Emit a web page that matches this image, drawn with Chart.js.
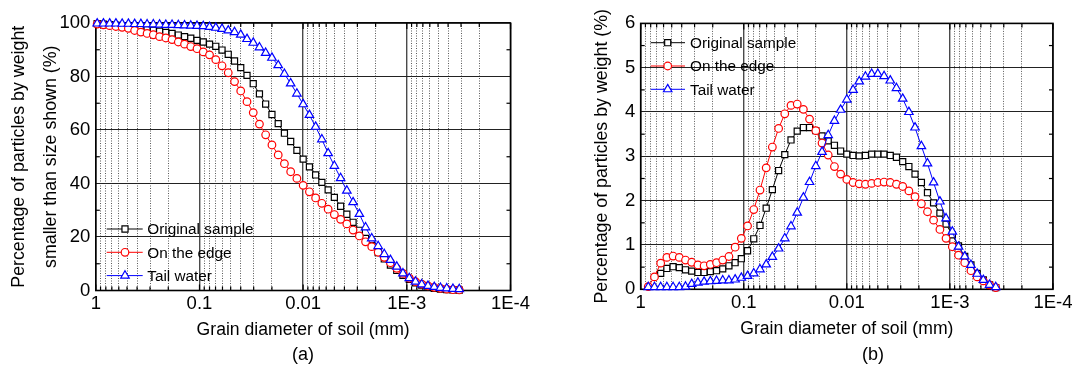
<!DOCTYPE html>
<html><head><meta charset="utf-8">
<script src="https://cdn.jsdelivr.net/npm/chart.js"></script>
<style>
html,body{margin:0;padding:0;background:#fff;}
#wrap{position:relative;width:1075px;height:371px;overflow:hidden;background:#fff;}
canvas{position:absolute;top:0;}
.cap{position:absolute;font-family:'Liberation Sans',Arial,sans-serif;font-size:18px;color:#000;transform:translate(-50%,-50%);white-space:nowrap;}
</style></head><body>
<div id="wrap">
<canvas id="ca" width="540" height="371" style="left:0px"></canvas>
<canvas id="cb" width="535" height="371" style="left:540px"></canvas>
<div class="cap" style="left:303px;top:354px">(a)</div>
<div class="cap" style="left:873px;top:354px">(b)</div>
</div>
<script>
// ---- data ----
const diameters = [0.970, 0.8444, 0.7351, 0.6400, 0.5571, 0.4850, 0.4222, 0.3676, 0.3200, 0.2786,
  0.2425, 0.2111, 0.1838, 0.1600, 0.1393, 0.1213, 0.1056, 0.0919, 0.0800, 0.0696,
  0.0606, 0.0528, 0.0459, 0.0400, 0.0348, 0.0303, 0.0264, 0.0230, 0.0200, 0.0174,
  0.01516, 0.01319, 0.01149, 0.01000, 0.00870, 0.00758, 0.00660, 0.00574, 0.00500, 0.00435,
  0.00379, 0.00330, 0.00287, 0.00250, 0.00218, 0.00189, 0.00165, 0.00144, 0.00125, 0.00109,
  0.000947, 0.000825, 0.000718, 0.000625, 0.000544, 0.000474, 0.000412, 0.000359, 0.000312];

const originalA = [99.8, 99.6, 99.4, 99.2, 98.9, 98.6, 98.3, 98.0, 97.6, 97.3,
  96.9, 96.5, 96.1, 95.5, 94.9, 94.3, 93.5, 92.9, 92.1, 91.3,
  89.9, 88.3, 85.8, 83.3, 80.4, 77.3, 73.5, 69.7, 65.8, 62.4,
  58.8, 55.7, 52.4, 49.1, 46.2, 43.2, 40.4, 37.6, 34.8, 31.5,
  28.5, 25.5, 22.5, 19.5, 16.8, 14.2, 11.8, 9.5, 7.5, 5.7,
  4.2, 2.9, 2.0, 1.3, 0.8, 0.5, 0.3, 0.2, 0.1];
const edgeA = [99.6, 99.3, 99.0, 98.7, 98.4, 98.0, 97.2, 96.6, 96.1, 95.6,
  94.9, 94.4, 93.8, 92.9, 92.1, 91.2, 90.4, 89.2, 88.1, 86.3,
  84.0, 81.4, 78.1, 74.6, 70.6, 66.5, 62.2, 58.2, 54.4, 50.7,
  47.4, 44.4, 41.9, 39.3, 36.9, 34.6, 32.6, 30.4, 28.4, 26.6,
  24.9, 22.6, 20.4, 18.2, 16.4, 14.3, 12.4, 10.4, 8.3, 6.4,
  4.6, 3.3, 2.4, 1.7, 1.2, 0.8, 0.5, 0.3, 0.2];
const tailA = [99.8, 99.8, 99.8, 99.8, 99.7, 99.7, 99.6, 99.6, 99.5, 99.5,
  99.4, 99.3, 99.3, 99.2, 99.1, 99.0, 98.9, 98.8, 98.5, 98.2,
  97.8, 97.2, 96.6, 95.6, 94.0, 92.6, 90.9, 88.8, 87.0, 84.2,
  81.0, 77.4, 73.6, 69.6, 65.6, 61.2, 56.5, 51.3, 46.6, 42.0,
  37.3, 33.0, 28.6, 23.6, 19.5, 16.6, 13.6, 11.4, 8.9, 6.4,
  4.6, 3.3, 2.3, 1.7, 1.3, 1.0, 0.8, 0.6, 0.5];

const originalB = [null, null, null, 0.36, 0.47, 0.51, 0.49, 0.44, 0.41, 0.38,
  0.38, 0.40, 0.42, 0.46, 0.53, 0.60, 0.69, 0.87, 1.14, 1.44,
  1.83, 2.25, 2.68, 3.04, 3.37, 3.57, 3.65, 3.65, 3.58, 3.46,
  3.35, 3.25, 3.12, 3.05, 3.02, 3.01, 3.02, 3.05, 3.05, 3.05,
  3.02, 2.98, 2.88, 2.77, 2.60, 2.41, 2.18, 1.95, 1.72, 1.47,
  1.23, 0.98, 0.74, 0.55, 0.36, 0.21, 0.10, 0.04];
const edgeB = [null, 0.06, 0.28, 0.59, 0.72, 0.75, 0.72, 0.66, 0.61, 0.55,
  0.53, 0.56, 0.60, 0.66, 0.74, 0.95, 1.15, 1.43, 1.80, 2.24,
  2.74, 3.21, 3.63, 3.96, 4.15, 4.18, 4.06, 3.84, 3.58, 3.30,
  3.03, 2.77, 2.60, 2.48, 2.41, 2.38, 2.37, 2.39, 2.41, 2.42,
  2.41, 2.37, 2.32, 2.22, 2.09, 1.93, 1.75, 1.56, 1.35, 1.15,
  0.96, 0.77, 0.60, 0.42, 0.28, 0.19, 0.10, 0.04];
const tailB = [null, 0.05, 0.05, 0.05, 0.05, 0.05, 0.05, 0.06, 0.12, 0.15,
  0.17, 0.18, 0.19, 0.20, 0.20, 0.22, 0.26, 0.30, 0.36, 0.45,
  0.56, 0.73, 0.92, 1.15, 1.42, 1.73, 2.07, 2.42, 2.78, 3.10,
  3.48, 3.80, 4.05, 4.28, 4.50, 4.69, 4.80, 4.86, 4.86, 4.81,
  4.71, 4.54, 4.30, 4.00, 3.65, 3.23, 2.84, 2.41, 1.98, 1.60,
  1.30, 0.96, 0.74, 0.55, 0.35, 0.21, 0.10, 0.05];

const seriesNames = ['Original sample', 'On the edge', 'Tail water'];
const xTickValues = [1, 0.1, 0.01, 0.001, 0.0001];
const xTickLabels = ['1', '0.1', '0.01', '1E-3', '1E-4'];
const yTicksA = [0, 20, 40, 60, 80, 100];
const yTicksB = [0, 1, 2, 3, 4, 5, 6];
const xTitle = 'Grain diameter of soil (mm)';
const yTitleA = ['Percentage of particles by weight', 'smaller than size shown (%)'];
const yTitleB = 'Percentage of particles by weight (%)';

// ---- styling ----
const FONT = "'Liberation Sans', Arial, sans-serif";
const styles = [
  {color: '#000000', pointStyle: 'rect', radius: 4.3},
  {color: '#ff0000', pointStyle: 'circle', radius: 3.8},
  {color: '#0000ff', pointStyle: 'triangle', radius: 4.9}
];

function toPoints(vals) {
  const pts = [];
  vals.forEach((v, i) => { if (v !== null && v !== undefined) pts.push({x: diameters[i], y: v}); });
  return pts;
}
function makeDatasets(arrs) {
  return arrs.map((vals, k) => ({
    label: seriesNames[k],
    data: toPoints(vals),
    borderColor: styles[k].color,
    borderWidth: 1,
    pointStyle: styles[k].pointStyle,
    pointRadius: styles[k].radius,
    pointBorderColor: styles[k].color,
    pointBackgroundColor: '#ffffff',
    pointBorderWidth: 1.2,
    tension: 0,
    order: 3 - k,
    clip: false
  }));
}

function xScale() {
  return {
    type: 'logarithmic', reverse: true, min: 1e-4, max: 1,
    afterBuildTicks: (scale) => {
      const ticks = [];
      xTickValues.forEach(v => ticks.push({value: v, major: true}));
      for (let j = 0; j < xTickValues.length - 1; j++) {
        const lo = Math.min(xTickValues[j], xTickValues[j + 1]);
        for (let m = 2; m <= 9; m++) ticks.push({value: lo * m, major: false});
      }
      ticks.sort((a, b) => b.value - a.value);
      scale.ticks = ticks;
    },
    afterFit: (scale) => { scale.height = 50; },
    ticks: {
      autoSkip: false, maxRotation: 0, minRotation: 0, padding: 2.5, color: '#000',
      font: {family: FONT, size: 18.5},
      callback: (value) => {
        const idx = xTickValues.findIndex(t => Math.abs(Math.log10(t) - Math.log10(value)) < 1e-6);
        return idx >= 0 ? xTickLabels[idx] : '';
      }
    },
    grid: {
      drawTicks: false,
      color: (c) => (c.tick && c.tick.major) ? '#4a4a4a' : '#5a5a5a',
      lineWidth: (c) => (c.tick && c.tick.major) ? 1.4 : 1
    },
    border: {display: false, dash: (c) => (c.tick && !c.tick.major) ? [1, 1.5] : []},
    title: {display: true, text: xTitle, color: '#000', font: {family: FONT, size: 17.6, lineHeight: 1.2}, padding: {top: 0, bottom: 0}}
  };
}
function yScale(ticksArr, width, title, lh, padTop) {
  return {
    type: 'linear', min: ticksArr[0], max: ticksArr[ticksArr.length - 1],
    afterBuildTicks: (scale) => { scale.ticks = ticksArr.map(v => ({value: v})); },
    afterFit: (scale) => { scale.width = width; },
    ticks: {padding: 5.5, color: '#000', font: {family: FONT, size: 18.5}, callback: (v) => String(v)},
    grid: {drawTicks: false, color: '#222222', lineWidth: 1.1},
    border: {display: false},
    title: {display: true, text: title, color: '#000', font: {family: FONT, size: 17.8, lineHeight: lh}, padding: {top: padTop, bottom: 0}}
  };
}

function drawMarker(ctx, st, x, y) {
  const r = st.radius;
  ctx.save();
  ctx.fillStyle = '#ffffff'; ctx.strokeStyle = st.color; ctx.lineWidth = 1.2;
  ctx.beginPath();
  if (st.pointStyle === 'rect') {
    const s = r * Math.SQRT1_2;
    ctx.rect(x - s, y - s, 2 * s, 2 * s);
  } else if (st.pointStyle === 'circle') {
    ctx.arc(x, y, r, 0, Math.PI * 2);
  } else {
    let a = 0;
    ctx.moveTo(x + Math.sin(a) * r, y - Math.cos(a) * r);
    a += 2 * Math.PI / 3; ctx.lineTo(x + Math.sin(a) * r, y - Math.cos(a) * r);
    a += 2 * Math.PI / 3; ctx.lineTo(x + Math.sin(a) * r, y - Math.cos(a) * r);
    ctx.closePath();
  }
  ctx.fill(); ctx.stroke();
  ctx.restore();
}

const framePlugin = {
  id: 'frameTicks',
  beforeDatasetsDraw(chart) {
    const {ctx, chartArea: {left, right, top, bottom}, scales: {x, y}} = chart;
    ctx.save();
    ctx.strokeStyle = '#000'; ctx.lineWidth = 1.2;
    const seg = (x1, y1, x2, y2) => { ctx.beginPath(); ctx.moveTo(x1, y1); ctx.lineTo(x2, y2); ctx.stroke(); };
    x.ticks.forEach(t => {
      const px = x.getPixelForValue(t.value);
      const len = t.major ? 6 : 4;
      seg(px, top, px, top + len); seg(px, bottom, px, bottom - len);
    });
    const yv = y.ticks.map(t => t.value);
    for (let k = 0; k < yv.length - 1; k++) {
      const py = y.getPixelForValue((yv[k] + yv[k + 1]) / 2);
      seg(left, py, left + 4, py); seg(right, py, right - 4, py);
    }
    ctx.lineWidth = 1.6;
    ctx.strokeRect(left, top, right - left, bottom - top);
    ctx.restore();
  }
};
function legendPlugin(pos) {
  return {
    id: 'inLegend',
    afterDatasetsDraw(chart) {
      const ctx = chart.ctx;
      ctx.save();
      seriesNames.forEach((name, k) => {
        const y = pos.y0 + k * pos.dy;
        ctx.strokeStyle = styles[k].color; ctx.lineWidth = 1;
        ctx.beginPath(); ctx.moveTo(pos.x0, y); ctx.lineTo(pos.x1, y); ctx.stroke();
        drawMarker(ctx, styles[k], pos.mx, y);
        ctx.fillStyle = '#000'; ctx.font = '15.3px ' + FONT;
        ctx.textBaseline = 'middle'; ctx.textAlign = 'left';
        ctx.fillText(name, pos.tx, y + 1);
      });
      ctx.restore();
    }
  };
}

function build(id, arrs, yTicks, yW, yTitle, lh, padTop, padding, legPos) {
  return new Chart(document.getElementById(id), {
    type: 'line',
    data: {datasets: makeDatasets(arrs)},
    options: {
      responsive: false, animation: false, devicePixelRatio: 1,
      layout: {padding: padding},
      plugins: {legend: {display: false}, tooltip: {enabled: false}, title: {display: false}},
      scales: {x: xScale(), y: yScale(yTicks, yW, yTitle, lh, padTop)}
    },
    plugins: [framePlugin, legendPlugin(legPos)]
  });
}

build('ca', [originalA, edgeA, tailA], yTicksA, 95.8, yTitleA, 1.82, 3,
  {left: 0, top: 23, right: 29.5, bottom: 30.5},
  {x0: 106.7, x1: 142.7, mx: 125, tx: 147.3, y0: 229, dy: 23.3});
build('cb', [originalB, edgeB, tailB], yTicksB, 100.7, yTitleB, 1.2, 51.7,
  {left: 0, top: 23.4, right: 20.5, bottom: 31.7},
  {x0: 110.7, x1: 145, mx: 127.7, tx: 150, y0: 42.7, dy: 23.3});
</script>
</body></html>
